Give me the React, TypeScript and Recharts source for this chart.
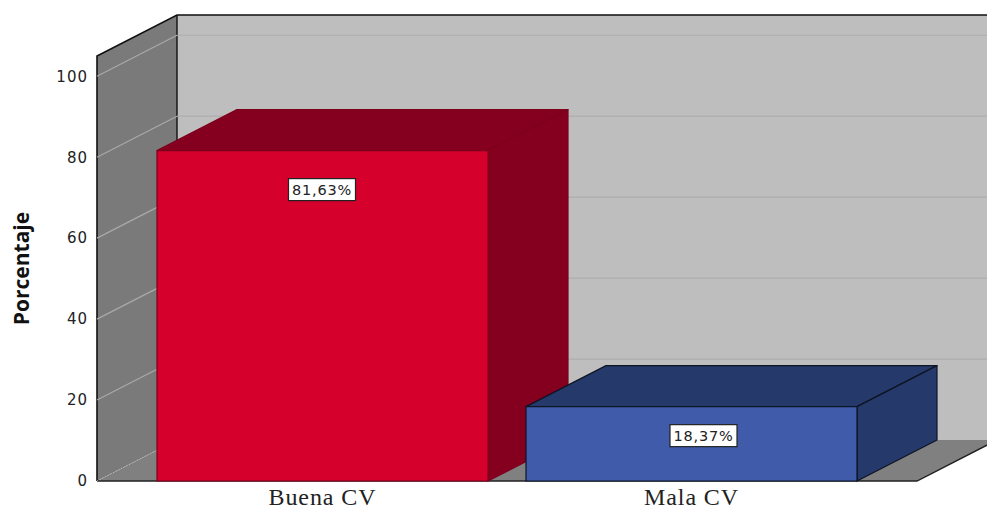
import React from 'react';
import { BarChart, Bar, XAxis, YAxis, ReferenceArea, ReferenceLine, LabelList, Cell } from 'recharts';

const categories = ['Buena CV', 'Mala CV'];
const percentages = [81.63, 18.37];
const percentLabels = ['81,63%', '18,37%'];
const yTicks = [0, 20, 40, 60, 80, 100];

const frontColors = ['#d5002c', '#3f5ba9'];
const darkColors = ['#85001f', '#26396b'];
const edgeColors = ['#7c001c', '#0d1424'];
const labelDrops = [39, 29];
const labelShifts = [-0.5, 12];

// how far the back wall sits from the front of the box
const DX = 80;
const DY = 41;
const AXIS_PAD = 41;

const data = categories.map((name, i) => ({ name, value: percentages[i] }));

const Walls = ({ x: innerX, y, width, height }: any) => {
    // the reference area stops at the axis padding, the walls do not
    const x = innerX - AXIS_PAD;
    const right = innerX + width + AXIS_PAD;
    const bottom = y + height;
    return (
        <g>
            <polygon points={`${x + DX},${y - DY} ${right + DX},${y - DY} ${right + DX},${bottom - DY} ${x + DX},${bottom - DY}`} fill="#bebebe" />
            <polygon points={`${x},${y} ${x + DX},${y - DY} ${x + DX},${bottom - DY} ${x},${bottom}`} fill="#7a7a7a" />
            <polygon points={`${x},${bottom} ${x + DX},${bottom - DY} ${right + DX},${bottom - DY} ${right},${bottom}`} fill="#808080" />
            <path d={`M${x},${bottom} L${x},${y} L${x + DX},${y - DY} L${right + DX},${y - DY}`} fill="none" stroke="#111" strokeWidth={1.6} />
            <path d={`M${x + DX},${y - DY} L${x + DX},${bottom - DY}`} fill="none" stroke="#111" strokeWidth={1.4} />
            <path d={`M${x},${bottom} L${right},${bottom} L${right + DX},${bottom - DY}`} fill="none" stroke="#222" strokeWidth={1.4} />
        </g>
    );
};

const GridLine = ({ x1, y1, x2, y2, isZero }: any) => {
    if (isZero) {
        return <path d={`M${x1},${y1} L${x1 + DX},${y1 - DY}`} fill="none" stroke="#c4c4c4" strokeWidth={1} strokeDasharray="1 2" />;
    }
    return (
        <g>
            <path d={`M${x1},${y1} L${x1 + DX},${y1 - DY}`} fill="none" stroke="#a9a9a9" strokeWidth={1.2} />
            <path d={`M${x1 + DX},${y1 - DY} L${x2 + DX},${y2 - DY}`} fill="none" stroke="#adadad" strokeWidth={1.2} />
        </g>
    );
};

const Box3D = ({ x, y, width, height, index }: any) => {
    const r = x + width;
    const b = y + height;
    const stroke = edgeColors[index];
    return (
        <g stroke={stroke} strokeWidth={1.2} strokeLinejoin="round">
            <polygon points={`${x},${y} ${x + DX},${y - DY} ${r + DX},${y - DY} ${r},${y}`} fill={darkColors[index]} />
            <polygon points={`${r},${y} ${r + DX},${y - DY} ${r + DX},${b - DY} ${r},${b}`} fill={darkColors[index]} />
            <rect x={x} y={y} width={width} height={height} fill={frontColors[index]} />
        </g>
    );
};

const PercentLabel = ({ x, y, width, index }: any) => {
    const cx = x + width / 2 + labelShifts[index];
    const cy = y + labelDrops[index];
    return (
        <g>
            <rect x={cx - 33.5} y={cy - 11} width={67} height={22} fill="#fff" stroke="#222" strokeWidth={1.2} />
            <text x={cx} y={cy + 5.5} textAnchor="middle" fontFamily="DejaVu Sans" fontSize={14.5} letterSpacing={0.8} fill="#222">
                {percentLabels[index]}
            </text>
        </g>
    );
};

export default function App() {
    return (
        <div style={{ position: 'absolute', left: 0, top: 0, width: 987, height: 510, overflow: 'hidden', background: '#fff' }}>
            <BarChart
                width={987}
                height={510}
                data={data}
                margin={{ top: 56, right: 70, bottom: 0, left: 0 }}
                barSize={331}
            >
                <ReferenceArea y1={0} y2={105} shape={<Walls />} ifOverflow="visible" zIndex={100} />
                {yTicks.map((t) => (
                    <ReferenceLine key={t} y={t} ifOverflow="visible" zIndex={150} shape={(p: any) => (
                        <GridLine x1={p.x1} y1={p.y1} x2={p.x2} y2={p.y2} isZero={t === 0} />
                    )} />
                ))}
                <XAxis
                    dataKey="name"
                    height={29}
                    padding={{ left: AXIS_PAD, right: AXIS_PAD }}
                    axisLine={false}
                    tickLine={false}
                    tickMargin={1}
                    tick={{ fontFamily: 'Liberation Serif', fontSize: 24, letterSpacing: 0.9, fill: '#222' }}
                />
                <YAxis
                    width={97}
                    domain={[0, 105]}
                    ticks={yTicks}
                    axisLine={false}
                    tickLine={false}
                    tickMargin={3}
                    tick={{ fontFamily: 'DejaVu Sans', fontSize: 15, letterSpacing: 1, fill: '#222' }}
                    label={{
                        value: 'Porcentaje',
                        angle: -90,
                        position: 'insideLeft',
                        offset: 22,
                        style: { fontFamily: 'Open Sans', fontWeight: 700, fontSize: 21, fill: '#111', textAnchor: 'middle' },
                    }}
                />
                <Bar dataKey="value" shape={<Box3D />} isAnimationActive={false} zIndex={300}>
                    {data.map((d, i) => (
                        <Cell key={d.name} fill={frontColors[i]} />
                    ))}
                    <LabelList dataKey="value" content={<PercentLabel />} />
                </Bar>
            </BarChart>
        </div>
    );
}
